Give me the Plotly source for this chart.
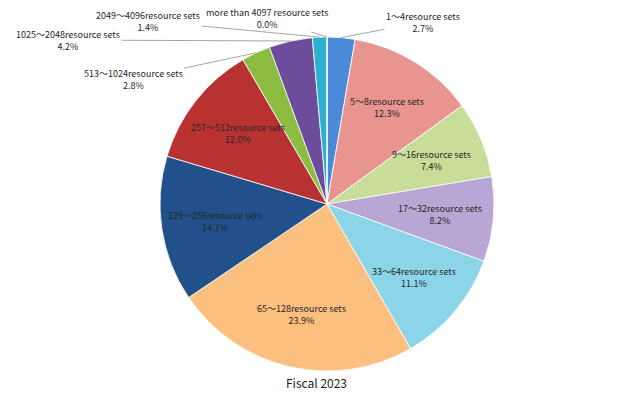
import math
import plotly.graph_objects as go

categories = ["1～4resource sets", "5～8resource sets", "9～16resource sets",
              "17～32resource sets", "33～64resource sets", "65～128resource sets",
              "129～256resource sets", "257～512resource sets", "513～1024resource sets",
              "1025～2048resource sets", "2049～4096resource sets", "more than 4097 resource sets"]
shares = [2.7, 12.3, 7.4, 8.2, 11.1, 23.9, 14.1, 12.0, 2.8, 4.2, 1.4, 0.0]
pct_labels = ["2.7%", "12.3%", "7.4%", "8.2%", "11.1%", "23.9%", "14.1%", "12.0%",
              "2.8%", "4.2%", "1.4%", "0.0%"]
colors = ["#4a8ad8", "#e8948f", "#c8de98", "#b8a6d4", "#8cd4e8", "#fbbf80",
          "#22508a", "#b83232", "#8cbc40", "#6e4c9c", "#2cb0d0", "#f0a060"]
title_text = "Fiscal 2023"

# outside-label placement (pixel coords of label block centre) for small slices
outside = {0: (423, 22), 8: (133, 79), 9: (68, 40), 10: (148, 21), 11: (267, 18)}

W, H = 640, 395
CX, CY, R = 327, 204, 167
FONT = "Noto Sans CJK JP"
TXT = "#262626"

fig = go.Figure()
fig.add_trace(go.Pie(
    labels=categories, values=shares, sort=False, direction="clockwise", rotation=0,
    marker=dict(colors=colors, line=dict(color="rgba(255,255,255,0.8)", width=1)),
    textinfo="none", hoverinfo="label+percent", showlegend=False,
    domain=dict(x=[(CX - R) / W, (CX + R) / W], y=[(H - CY - R) / H, (H - CY + R) / H]),
))
# hidden overlay axes in pixel units for labels
fig.add_trace(go.Scatter(x=[0, W], y=[0, H], mode="markers", marker=dict(opacity=0),
                         hoverinfo="skip", showlegend=False))

total = sum(shares)
cum = 0.0
annotations = []
for i, (cat, v) in enumerate(zip(categories, shares)):
    mid = (cum + v / 2) / total * 2 * math.pi
    cum += v
    text = f"{cat}<br>{pct_labels[i]}"
    if i in outside:
        tx, ty = outside[i]
        ex = CX + R * math.sin(mid)
        ey = CY - R * math.cos(mid)
        annotations.append(dict(
            x=ex, y=ey, xref="x", yref="y", ax=tx, ay=ty, axref="x", ayref="y",
            text=text, showarrow=True, arrowhead=0, arrowwidth=1, arrowcolor="#a6a6a6",
            font=dict(family=FONT, size=9, color=TXT), align="center"))
    else:
        rr = 0.68 * R
        lx = CX + rr * math.sin(mid)
        ly = CY - rr * math.cos(mid)
        annotations.append(dict(
            x=lx, y=ly, xref="x", yref="y", text=text, showarrow=False,
            font=dict(family=FONT, size=9, color=TXT), align="center"))

annotations.append(dict(x=316, y=382, xref="x", yref="y", text=title_text, showarrow=False,
                        font=dict(family=FONT, size=12, color="#1a1a1a")))

fig.update_layout(
    width=W, height=H, margin=dict(l=0, r=0, t=0, b=0),
    paper_bgcolor="white", plot_bgcolor="rgba(0,0,0,0)",
    xaxis=dict(range=[0, W], visible=False, fixedrange=True),
    yaxis=dict(range=[H, 0], visible=False, fixedrange=True),
    annotations=annotations,
)
fig.write_html("out.html", config={"displayModeBar": False},
               post_script="document.body.style.margin='0px';document.body.style.overflow='hidden';")
